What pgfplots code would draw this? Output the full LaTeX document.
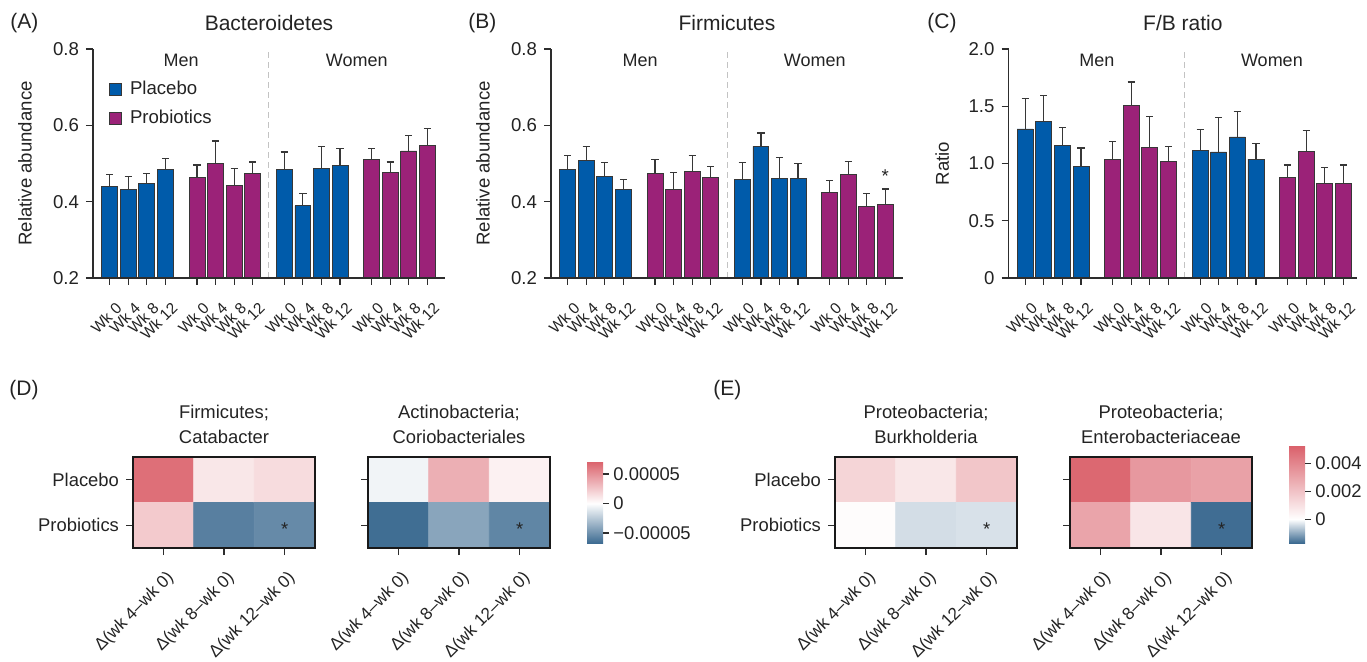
\documentclass[border=0pt]{standalone}
\usepackage{fontspec}
\setmainfont{Liberation Sans}
\usepackage{pgfplots}
\pgfplotsset{compat=1.18}
\definecolor{cBlue}{RGB}{0,91,170}
\definecolor{cPurp}{RGB}{155,34,120}
\definecolor{cEdge}{RGB}{55,55,55}
\definecolor{cAxis}{RGB}{45,45,45}
\definecolor{cTxt}{RGB}{35,35,35}
\definecolor{cDiv}{RGB}{195,195,195}
\newcommand\ftitle{\fontsize{10.5}{12.6}\selectfont}
\newcommand\ftick{\fontsize{9.3}{11.2}\selectfont}
\newcommand\fmw{\fontsize{9}{10.8}\selectfont}
\newcommand\fxt{\fontsize{7.8}{9.2}\selectfont}
\newcommand\fhm{\fontsize{9.2}{12.5}\selectfont}
\newcommand\fhx{\fontsize{8.6}{10.3}\selectfont}
\newcommand\fpl{\fontsize{10.5}{12.6}\selectfont}
\pgfplotsset{
  colormap={hmD}{rgb255(0pt)=(57,104,143) rgb255(686pt)=(255,255,255) rgb255(1406pt)=(218,96,106)},
  colormap={hmE}{rgb255(0pt)=(57,104,143) rgb255(171pt)=(255,255,255) rgb255(697pt)=(218,96,106)},
  barax/.style={
    scale only axis, width=176pt, height=114.5pt,
    xmin=-0.9, xmax=18.05,
    axis lines=left, axis line style={-, cAxis, line width=0.6pt},
    axis on top,
    tick align=outside, major tick length=3.5pt,
    tick style={cAxis, line width=0.6pt},
    xtick={0,1,2,3,4.7,5.7,6.7,7.7,9.4,10.4,11.4,12.4,14.1,15.1,16.1,17.1},
    xticklabels={Wk 0,Wk 4,Wk 8,Wk 12,Wk 0,Wk 4,Wk 8,Wk 12,Wk 0,Wk 4,Wk 8,Wk 12,Wk 0,Wk 4,Wk 8,Wk 12},
    xticklabel style={xshift=2.5pt, yshift=-6.5pt, rotate=45, anchor=north east, font=\fxt, inner sep=1pt, text=cTxt},
    yticklabel style={font=\ftick, text=cTxt},
    ylabel style={at={(axis description cs:-0.193,0.5)}, anchor=center, font=\ftick, text=cTxt},
    title style={at={(axis description cs:0.5,1)}, anchor=center, yshift=7pt, font=\ftitle, text=cTxt},
  },
  bars/.style={ybar, bar shift=0pt, bar width=0.86, draw=cEdge, line width=0.4pt, fill=#1, forget plot,
    error bars/.cd, y dir=plus, y explicit,
    error bar style={cEdge, line width=0.6pt},
    error mark options={rotate=90, mark size=1.8pt, cEdge, line width=0.6pt}},
  hm/.style={
    scale only axis, width=91pt, height=45.5pt,
    xmin=-0.5, xmax=2.5, ymin=-0.5, ymax=1.5, y dir=reverse, enlargelimits=false,
    axis on top, axis line style={black!90, line width=0.75pt},
    xtick={0,1,2}, ytick={0,1}, xtick pos=left, ytick pos=left,
    tick align=outside, major tick length=3.5pt, tick style={cAxis, line width=0.6pt},
    xticklabels={{Δ(wk 4–wk 0)},{Δ(wk 8–wk 0)},{Δ(wk 12–wk 0)}},
    xticklabel style={xshift=1pt, yshift=-5pt, rotate=45, anchor=north east, font=\fhx, text=cTxt, inner sep=1.5pt},
    yticklabel style={font=\fhm, text=cTxt},
    title style={align=center, at={(axis description cs:0.5,1)}, anchor=south, yshift=0.5pt, inner sep=0pt, font=\fhm, text=cTxt},
  },
  cbar/.style={
    scale only axis, width=8pt,
    axis line style={draw=none},
    ytick pos=right, yticklabel pos=right,
    tick align=outside, major tick length=3pt,
    tick style={draw=cAxis, line width=0.6pt},
    scaled y ticks=false,
    yticklabel style={font=\fhm, text=cTxt, inner sep=2pt},
  },
}
\begin{document}
\begin{tikzpicture}
\useasboundingbox (0,0) rectangle (683.5pt,-331pt);
% panel letters
\node[font=\fpl, text=cTxt, anchor=west, inner sep=0pt] at (5pt,-11.5pt) {(A)};
\node[font=\fpl, text=cTxt, anchor=west, inner sep=0pt] at (234pt,-11.5pt) {(B)};
\node[font=\fpl, text=cTxt, anchor=west, inner sep=0pt] at (463.5pt,-11.5pt) {(C)};
\node[font=\fpl, text=cTxt, anchor=west, inner sep=0pt] at (4.5pt,-195pt) {(D)};
\node[font=\fpl, text=cTxt, anchor=west, inner sep=0pt] at (356.5pt,-195pt) {(E)};

% ---------------- A
\begin{axis}[barax, at={(46.5pt,-139pt)}, anchor=south west,
  ymin=0.2, ymax=0.8, ytick={0.2,0.4,0.6,0.8}, yticklabels={0.2,0.4,0.6,0.8},
  ylabel={Relative abundance}, title={Bacteroidetes},
  legend style={at={(axis description cs:0.045,0.875)}, anchor=north west, draw=none, fill=none,
    font=\ftick, text=cTxt, row sep=3.5pt, column sep=2.5pt, inner sep=0pt, nodes={inner sep=1.5pt}},
  legend cell align=left]
\addplot[bars=cBlue] coordinates {(0,0.439) +- (0,0.032) (1,0.433) +- (0,0.032) (2,0.448) +- (0,0.026) (3,0.484) +- (0,0.030)};
\addplot[bars=cPurp] coordinates {(4.7,0.463) +- (0,0.033) (5.7,0.501) +- (0,0.058) (6.7,0.443) +- (0,0.043) (7.7,0.475) +- (0,0.029)};
\addplot[bars=cBlue] coordinates {(9.4,0.484) +- (0,0.046) (10.4,0.389) +- (0,0.033) (11.4,0.486) +- (0,0.058) (12.4,0.494) +- (0,0.045)};
\addplot[bars=cPurp] coordinates {(14.1,0.511) +- (0,0.028) (15.1,0.477) +- (0,0.027) (16.1,0.533) +- (0,0.040) (17.1,0.548) +- (0,0.044)};
\addlegendimage{legend image code/.code={\draw[fill=cBlue,draw=cEdge,line width=0.4pt] (0pt,-3pt) rectangle (6pt,3pt);}}
\addlegendentry{Placebo}
\addlegendimage{legend image code/.code={\draw[fill=cPurp,draw=cEdge,line width=0.4pt] (0pt,-3pt) rectangle (6pt,3pt);}}
\addlegendentry{Probiotics}
\draw[cDiv, line width=0.5pt, dash pattern=on 3pt off 2pt] (axis cs:8.55,0.2) -- (axis cs:8.55,0.8);
\node[font=\fmw, text=cTxt] at (axis cs:3.85,0.769) {Men};
\node[font=\fmw, text=cTxt] at (axis cs:13.3,0.769) {Women};
\end{axis}

% ---------------- B
\begin{axis}[barax, at={(275.5pt,-139pt)}, anchor=south west,
  ymin=0.2, ymax=0.8, ytick={0.2,0.4,0.6,0.8}, yticklabels={0.2,0.4,0.6,0.8},
  ylabel={Relative abundance}, title={Firmicutes}]
\addplot[bars=cBlue] coordinates {(0,0.485) +- (0,0.036) (1,0.507) +- (0,0.037) (2,0.465) +- (0,0.038) (3,0.432) +- (0,0.026)};
\addplot[bars=cPurp] coordinates {(4.7,0.474) +- (0,0.036) (5.7,0.433) +- (0,0.044) (6.7,0.479) +- (0,0.043) (7.7,0.464) +- (0,0.029)};
\addplot[bars=cBlue] coordinates {(9.4,0.459) +- (0,0.043) (10.4,0.545) +- (0,0.035) (11.4,0.462) +- (0,0.054) (12.4,0.462) +- (0,0.038)};
\addplot[bars=cPurp] coordinates {(14.1,0.425) +- (0,0.030) (15.1,0.472) +- (0,0.033) (16.1,0.387) +- (0,0.035) (17.1,0.393) +- (0,0.040)};
\draw[cDiv, line width=0.5pt, dash pattern=on 3pt off 2pt] (axis cs:8.6,0.2) -- (axis cs:8.6,0.8);
\node[font=\fmw, text=cTxt] at (axis cs:3.9,0.769) {Men};
\node[font=\fmw, text=cTxt] at (axis cs:13.3,0.769) {Women};
\node[font=\ftick, text=cTxt] at (axis cs:17.1,0.468) {*};
\end{axis}

% ---------------- C
\begin{axis}[barax, at={(504.25pt,-139pt)}, anchor=south west, width=174.4pt, xmax=17.85,
  ymin=0, ymax=2, ytick={0,0.5,1,1.5,2}, yticklabels={0,0.5,1.0,1.5,2.0},
  ylabel={Ratio}, ylabel style={at={(axis description cs:-0.19,0.5)}}, title={F/B ratio}]
\addplot[bars=cBlue] coordinates {(0,1.302) +- (0,0.263) (1,1.366) +- (0,0.231) (2,1.156) +- (0,0.161) (3,0.975) +- (0,0.161)};
\addplot[bars=cPurp] coordinates {(4.7,1.036) +- (0,0.155) (5.7,1.509) +- (0,0.202) (6.7,1.142) +- (0,0.268) (7.7,1.019) +- (0,0.128)};
\addplot[bars=cBlue] coordinates {(9.4,1.115) +- (0,0.181) (10.4,1.101) +- (0,0.303) (11.4,1.232) +- (0,0.219) (12.4,1.039) +- (0,0.135)};
\addplot[bars=cPurp] coordinates {(14.1,0.882) +- (0,0.105) (15.1,1.107) +- (0,0.181) (16.1,0.829) +- (0,0.134) (17.1,0.829) +- (0,0.158)};
\draw[cDiv, line width=0.5pt, dash pattern=on 3pt off 2pt] (axis cs:8.56,0) -- (axis cs:8.56,2);
\node[font=\fmw, text=cTxt] at (axis cs:3.85,1.897) {Men};
\node[font=\fmw, text=cTxt] at (axis cs:13.26,1.897) {Women};
\end{axis}

% ---------------- D1
\begin{axis}[hm, at={(66.5pt,-274pt)}, anchor=south west,
  colormap name=hmD, point meta min=-0.0000686, point meta max=0.000072,
  yticklabels={Placebo,Probiotics}, title={Firmicutes;\\Catabacter}]
\addplot[matrix plot*, mesh/cols=3, point meta=explicit] table[meta=c] {
x y c
0 0 0.000065
1 0 0.000011
2 0 0.000016
0 1 0.000024
1 1 -0.000058
2 1 -0.000053
};
\node[font=\fhm, text=cTxt] at (axis cs:2,1.08) {*};
\end{axis}

% ---------------- D2
\begin{axis}[hm, at={(184pt,-274pt)}, anchor=south west,
  colormap name=hmD, point meta min=-0.0000686, point meta max=0.000072,
  yticklabels={,}, title={Actinobacteria;\\Coriobacteriales},
  colorbar, colorbar style={cbar, at={(parent axis.east)}, anchor=west, xshift=10pt, height=41.5pt,
    ytick={-0.00005,0,0.00005}, yticklabels={−0.00005,0,0.00005}}]
\addplot[matrix plot*, mesh/cols=3, point meta=explicit] table[meta=c] {
x y c
0 0 -0.000005
1 0 0.000036
2 0 0.0000065
0 1 -0.000066
1 1 -0.000041
2 1 -0.000055
};
\node[font=\fhm, text=cTxt] at (axis cs:2,1.08) {*};
\end{axis}

% ---------------- E1
\begin{axis}[hm, at={(417.5pt,-274pt)}, anchor=south west,
  colormap name=hmE, point meta min=-0.00171, point meta max=0.00526,
  yticklabels={Placebo,Probiotics}, title={Proteobacteria;\\Burkholderia}]
\addplot[matrix plot*, mesh/cols=3, point meta=explicit] table[meta=c] {
x y c
0 0 0.0014
1 0 0.0008
2 0 0.0019
0 1 0.0001
1 1 -0.00038
2 1 -0.00034
};
\node[font=\fhm, text=cTxt] at (axis cs:2,1.08) {*};
\end{axis}

% ---------------- E2
\begin{axis}[hm, at={(535pt,-274pt)}, anchor=south west,
  colormap name=hmE, point meta min=-0.00171, point meta max=0.00526,
  yticklabels={,}, title={Proteobacteria;\\Enterobacteriaceae},
  colorbar, colorbar style={cbar, at={(parent axis.east)}, anchor=west, xshift=10pt, yshift=4pt, height=48.8pt,
    ytick={0,0.002,0.004}, yticklabels={0,0.002,0.004}}]
\addplot[matrix plot*, mesh/cols=3, point meta=explicit] table[meta=c] {
x y c
0 0 0.0050
1 0 0.0034
2 0 0.0031
0 1 0.0030
1 1 0.00085
2 1 -0.00165
};
\node[font=\fhm, text=cTxt] at (axis cs:2,1.08) {*};
\end{axis}
\end{tikzpicture}
\end{document}
